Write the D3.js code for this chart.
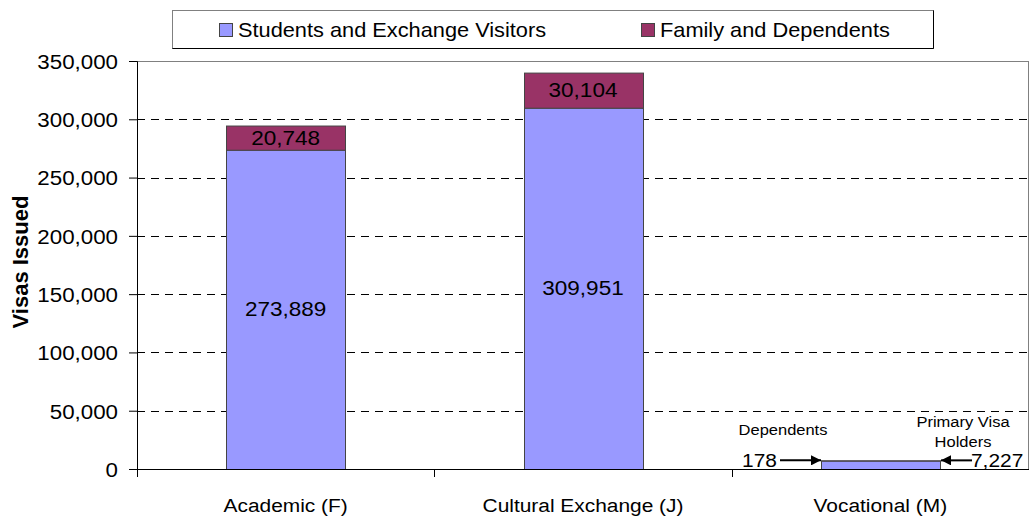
<!DOCTYPE html>
<html>
<head>
<meta charset="utf-8">
<script src="https://cdnjs.cloudflare.com/ajax/libs/d3/7.8.5/d3.min.js"></script>
<style>
  html, body { margin: 0; padding: 0; background: #fff; }
  svg { display: block; font-family: "Liberation Sans", Arial, sans-serif; }
</style>
</head>
<body>
<svg id="visa-chart"></svg>
<script>
// chart data
var categories = ['Academic (F)', 'Cultural Exchange (J)', 'Vocational (M)'];
var seriesNames = ['Students and Exchange Visitors', 'Family and Dependents'];
var primaryValues = [273889, 309951, 7227];
var familyValues = [20748, 30104, 178];
var yTicks = [0, 50000, 100000, 150000, 200000, 250000, 300000, 350000];

(function () {

  var VisaChart = {

    width: 1029,
    height: 516,
    margin: { top: 61, right: 0, bottom: 47, left: 137 },
    colors: ['#9999ff', '#993366'],
    stretch: 1.1, // the source text is a bit wider than plain Arial
    yMax: 350000,

    // text helper: place text at x,y and widen it horizontally
    label: function (g, x, y, str, size, anchor) {
      return g.append('text')
        .attr('transform', 'translate(' + x + ',' + y + ') scale(' + this.stretch + ',1)')
        .attr('text-anchor', anchor || 'start')
        .attr('font-size', size)
        .attr('fill', '#000')
        .text(str);
    },

    buildChart: function () {
      var _this = this;
      var margin = this.margin;
      var plotW = this.width - margin.left - margin.right;
      var plotH = this.height - margin.top - margin.bottom;

      var svg = d3.select('#visa-chart')
        .attr('width', this.width)
        .attr('height', this.height);

      var x = d3.scaleBand()
        .domain(categories)
        .range([margin.left, margin.left + plotW])
        .paddingInner(0.6)
        .paddingOuter(0.3);

      var y = d3.scaleLinear()
        .domain([0, this.yMax])
        .range([margin.top + plotH, margin.top]);

      // plot area border (top + right)
      svg.append('rect')
        .attr('x', margin.left + 0.5)
        .attr('y', margin.top + 0.5)
        .attr('width', plotW - 1)
        .attr('height', plotH)
        .attr('fill', 'none')
        .attr('stroke', '#808080');

      // dashed gridlines
      svg.append('g')
        .selectAll('line')
        .data(yTicks.filter(function (d) { return d > 0 && d < _this.yMax; }))
        .enter()
        .append('line')
        .attr('x1', margin.left)
        .attr('x2', margin.left + plotW)
        .attr('y1', function (d) { return Math.round(y(d)) + 0.5; })
        .attr('y2', function (d) { return Math.round(y(d)) + 0.5; })
        .attr('stroke', '#000')
        .attr('stroke-dasharray', '8,6');

      // stacked bars
      var stackData = categories.map(function (c, i) {
        return { cat: c, primary: primaryValues[i], family: familyValues[i] };
      });
      var series = d3.stack().keys(['primary', 'family'])(stackData);

      var barG = svg.append('g');
      series.forEach(function (s, si) {
        barG.selectAll('rect.s' + si)
          .data(s)
          .enter()
          .append('rect')
          .attr('class', 's' + si)
          .attr('x', function (d) { return Math.round(x(d.data.cat)) + 0.5; })
          .attr('y', function (d) { return y(d[1]) + 0.5; })
          .attr('width', Math.round(x.bandwidth()))
          .attr('height', function (d) { return Math.max(0, y(d[0]) - y(d[1])); })
          .attr('fill', _this.colors[si])
          .attr('stroke', '#444')
          .attr('stroke-width', 1);
      });

      // value labels inside the first two bars
      var fmt = d3.format(',');
      series.forEach(function (s) {
        s.forEach(function (d, i) {
          if (i === 2) return;
          var v = d[1] - d[0];
          _this.label(svg, x(d.data.cat) + x.bandwidth() / 2, (y(d[0]) + y(d[1])) / 2 + 7, fmt(v), 20.5, 'middle');
        });
      });

      // y axis
      var yAxis = svg.append('g')
        .attr('transform', 'translate(' + margin.left + ',0)')
        .call(d3.axisLeft(y).tickValues(yTicks).tickSize(8).tickPadding(11).tickFormat(fmt));
      yAxis.select('.domain').attr('stroke', '#000');
      yAxis.selectAll('.tick line').attr('stroke', '#000');
      yAxis.selectAll('.tick text')
        .attr('font-size', 20.3)
        .attr('font-family', '"Liberation Sans", Arial, sans-serif')
        .attr('fill', '#000')
        .attr('dy', '0.36em')
        .attr('transform', function () {
          var tx = +d3.select(this).attr('x');
          return 'translate(' + tx + ',0) scale(' + _this.stretch + ',1)';
        })
        .attr('x', 0);

      // x axis line with ticks at category boundaries
      var xBase = margin.top + plotH;
      svg.append('line')
        .attr('x1', margin.left).attr('x2', margin.left + plotW)
        .attr('y1', xBase + 0.5).attr('y2', xBase + 0.5)
        .attr('stroke', '#000');
      var step = x.step();
      var bounds = d3.range(categories.length + 1).map(function (i) { return margin.left + i * step; });
      svg.append('g')
        .selectAll('line')
        .data(bounds)
        .enter()
        .append('line')
        .attr('x1', function (d) { return Math.round(d) + 0.5; })
        .attr('x2', function (d) { return Math.round(d) + 0.5; })
        .attr('y1', xBase)
        .attr('y2', xBase + 8)
        .attr('stroke', '#000');

      categories.forEach(function (c) {
        _this.label(svg, x(c) + x.bandwidth() / 2, 512, c, 19, 'middle');
      });

      // y axis title
      svg.append('text')
        .attr('transform', 'translate(28,' + (margin.top + plotH / 2 - 3) + ') rotate(-90)')
        .attr('text-anchor', 'middle')
        .attr('font-size', 22)
        .attr('font-weight', 'bold')
        .text('Visas Issued');

      // annotations for the tiny vocational bar
      svg.append('defs').append('marker')
        .attr('id', 'arrow')
        .attr('viewBox', '0 0 10 10')
        .attr('refX', 10).attr('refY', 5)
        .attr('markerWidth', 5).attr('markerHeight', 5)
        .attr('orient', 'auto')
        .append('path')
        .attr('d', 'M0,0 L10,5 L0,10 z')
        .attr('fill', '#000');

      var voc = categories[2];
      var bl = Math.round(x(voc));
      var br = bl + Math.round(x.bandwidth());
      var bt = y(primaryValues[2] + familyValues[2]);

      svg.append('line')
        .attr('x1', bl - 41).attr('x2', bl)
        .attr('y1', bt).attr('y2', bt)
        .attr('stroke', '#000').attr('stroke-width', 2)
        .attr('marker-end', 'url(#arrow)');
      this.label(svg, bl - 44, bt + 7, fmt(familyValues[2]), 19, 'end');
      this.label(svg, bl - 38, bt - 25, 'Dependents', 15, 'middle');

      svg.append('line')
        .attr('x1', br + 32).attr('x2', br + 1)
        .attr('y1', bt).attr('y2', bt)
        .attr('stroke', '#000').attr('stroke-width', 2)
        .attr('marker-end', 'url(#arrow)');
      this.label(svg, br + 31, bt + 7, fmt(primaryValues[2]), 19, 'start');
      this.label(svg, br + 23, bt - 33, 'Primary Visa', 15, 'middle');
      this.label(svg, br + 23, bt - 13, 'Holders', 15, 'middle');

      // legend: grey top/left edge, dark bottom/right edge
      var legend = svg.append('g');
      var lb = { x: 172.5, y: 10.5, w: 761, h: 38 };
      legend.append('rect')
        .attr('x', lb.x).attr('y', lb.y)
        .attr('width', lb.w).attr('height', lb.h)
        .attr('fill', '#fff')
        .attr('stroke', '#808080');
      legend.append('path')
        .attr('d', 'M' + (lb.x + lb.w) + ',' + lb.y + 'V' + (lb.y + lb.h) + 'H' + lb.x)
        .attr('fill', 'none')
        .attr('stroke', '#000');
      var legendX = [219, 641];
      seriesNames.forEach(function (name, i) {
        legend.append('rect')
          .attr('x', legendX[i] + 0.5).attr('y', 23.5)
          .attr('width', 13).attr('height', 13)
          .attr('fill', _this.colors[i])
          .attr('stroke', '#444');
        _this.label(legend, legendX[i] + 19, 37, name, 19.8, 'start');
      });
    },

    init: function () {
      this.buildChart();
    }
  };

  VisaChart.init();
})();
</script>
</body>
</html>
